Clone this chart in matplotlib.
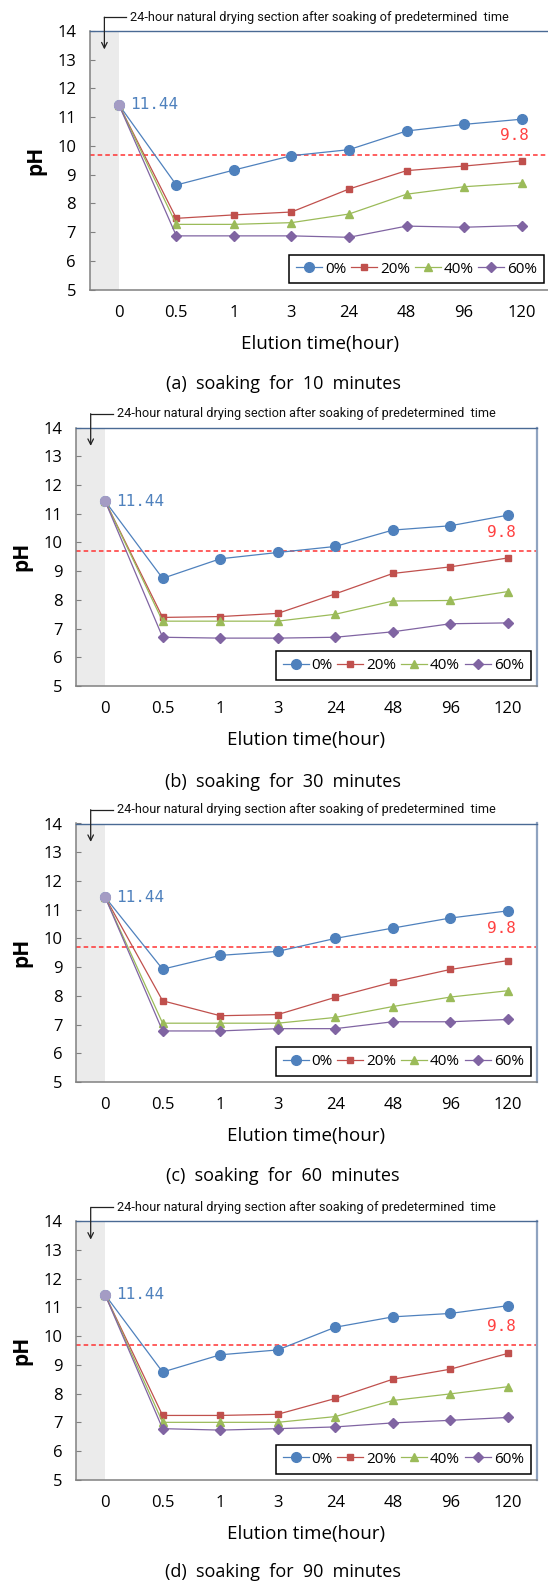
import matplotlib.pyplot as plt

plt.rcParams['font.family'] = ['Open Sans', 'DejaVu Sans']

# elution time categories and series names
times = ['0', '0.5', '1', '3', '24', '48', '96', '120']
series_names = ['0%', '20%', '40%', '60%']
captions = ['(a)  soaking  for  10  minutes',
            '(b)  soaking  for  30  minutes',
            '(c)  soaking  for  60  minutes',
            '(d)  soaking  for  90  minutes']

# pH values
soak10_0 = [11.44, 8.64, 9.16, 9.66, 9.87, 10.52, 10.75, 10.93]
soak10_20 = [11.44, 7.48, 7.60, 7.70, 8.50, 9.14, 9.30, 9.48]
soak10_40 = [11.44, 7.27, 7.27, 7.33, 7.63, 8.32, 8.58, 8.71]
soak10_60 = [11.44, 6.87, 6.87, 6.87, 6.82, 7.21, 7.17, 7.23]

soak30_0 = [11.44, 8.75, 9.43, 9.65, 9.86, 10.43, 10.58, 10.95]
soak30_20 = [11.44, 7.39, 7.42, 7.53, 8.21, 8.92, 9.15, 9.46]
soak30_40 = [11.44, 7.26, 7.26, 7.26, 7.50, 7.96, 7.98, 8.29]
soak30_60 = [11.44, 6.70, 6.67, 6.67, 6.70, 6.89, 7.17, 7.20]

soak60_0 = [11.44, 8.93, 9.41, 9.55, 10.00, 10.36, 10.71, 10.96]
soak60_20 = [11.44, 7.83, 7.31, 7.35, 7.95, 8.48, 8.92, 9.23]
soak60_40 = [11.44, 7.05, 7.05, 7.05, 7.25, 7.63, 7.96, 8.18]
soak60_60 = [11.44, 6.78, 6.78, 6.86, 6.86, 7.10, 7.10, 7.18]

soak90_0 = [11.44, 8.75, 9.35, 9.52, 10.31, 10.67, 10.79, 11.06]
soak90_20 = [11.44, 7.24, 7.24, 7.28, 7.83, 8.50, 8.85, 9.40]
soak90_40 = [11.44, 7.00, 7.00, 7.00, 7.20, 7.76, 7.99, 8.24]
soak90_60 = [11.44, 6.78, 6.73, 6.78, 6.84, 6.98, 7.07, 7.17]

panels = [
    [soak10_0, soak10_20, soak10_40, soak10_60],
    [soak30_0, soak30_20, soak30_40, soak30_60],
    [soak60_0, soak60_20, soak60_40, soak60_60],
    [soak90_0, soak90_20, soak90_40, soak90_60],
]

limit_ph = 9.7
limit_text = '9.8'
start_text = '11.44'
note = '24-hour natural drying section after soaking of predetermined  time'

colors = ['#4F81BD', '#C0504D', '#9BBB59', '#8064A2']
markers = ['o', 's', '^', 'D']
msizes = [7, 5, 5.5, 5.5]

W, H = 548, 1586
fig = plt.figure(figsize=(W / 100, H / 100), dpi=100)
renderer = fig.canvas.get_renderer()

# axes boxes in pixels: left, top
boxes = [(90, 31), (76.3, 427.5), (76.3, 823.5), (76.3, 1221.2)]
aw, ah = 460.4, 258.6
cap_y = [384, 782, 1176, 1572]
note_width = 381  # px, as in the picture

x = list(range(len(times)))

for k, (vals, (left, top)) in enumerate(zip(panels, boxes)):
    ax = fig.add_axes([left / W, 1 - (top + ah) / H, aw / W, ah / H])
    ax.set_xlim(-0.5, len(times) - 0.5)
    ax.set_ylim(5, 14)

    # drying section band
    ax.axvspan(-0.5, 0, color='#EBEBEB', zorder=0, lw=0)
    ax.axhline(limit_ph, color='#FF3333', ls=(0, (3, 2)), lw=1.1, zorder=1)

    handles = []
    for s, y in enumerate(vals):
        ln, = ax.plot(x, y, color=colors[s], marker=markers[s], ms=msizes[s],
                      lw=0.9, mec=colors[s], zorder=3 + s, label=series_names[s])
        handles.append(ln)
    # blended start point
    ax.plot(x[0], vals[0][0], 'o', ms=7, color='#A49CC4', zorder=8)

    ax.text(0.19, vals[0][0], start_text, color='#4F81BD', fontsize=11.5,
            family='DejaVu Sans Mono', va='center', ha='left')
    ax.text(6.88, 10.35, limit_text, color='#FF4040', fontsize=11.5,
            family='DejaVu Sans Mono', va='center', ha='center')

    # note with arrow above the band
    ax.annotate('', xy=(-0.25, 13.36), xytext=(-0.25, 14.48),
                arrowprops=dict(arrowstyle='->', color='#222222', lw=0.9,
                                shrinkA=0, shrinkB=0), annotation_clip=False)
    ax.plot([-0.25, 0.13], [14.48, 14.48], color='#222222', lw=0.9, clip_on=False)
    t = ax.text(0.2, 14.48, note, fontsize=9, va='center', ha='left',
                family=['Roboto', 'DejaVu Sans'], color='#111111')
    wpx = t.get_window_extent(renderer=renderer).width
    t.set_fontsize(9 * note_width / wpx)

    ax.set_yticks(range(5, 15))
    ax.set_xticks(x)
    ax.set_xticklabels(times)
    ax.tick_params(axis='y', direction='in', length=3.5, color='#808080',
                   labelsize=12, pad=10)
    ax.tick_params(axis='x', length=0, labelsize=12, pad=11)

    for side in ['left', 'bottom']:
        ax.spines[side].set_color('#808080')
        ax.spines[side].set_linewidth(1.1)
    ax.spines['top'].set_color('#4A6A94')
    ax.spines['top'].set_linewidth(1.0)
    ax.spines['right'].set_color('#8FA3C0')
    ax.spines['right'].set_linewidth(1.6)

    ax.text(-54 / aw, 0.5, 'pH', transform=ax.transAxes, rotation=90,
            fontsize=15, fontweight='bold', ha='center', va='center')
    ax.text(0.5, -54 / ah, 'Elution time(hour)', transform=ax.transAxes,
            fontsize=13.5, ha='center', va='center')

    leg = ax.legend(handles=handles, loc='lower right', ncol=4, fontsize=11,
                    handlelength=1.7, handletextpad=0.2, columnspacing=0.3,
                    borderaxespad=0.4, borderpad=0.45, fancybox=False,
                    framealpha=1, edgecolor='black')
    leg.get_frame().set_linewidth(1.1)
    leg.set_zorder(10)

    fig.text(283 / W, 1 - cap_y[k] / H, captions[k], fontsize=13,
             ha='center', va='center')

fig.savefig('out.png', dpi=100)
